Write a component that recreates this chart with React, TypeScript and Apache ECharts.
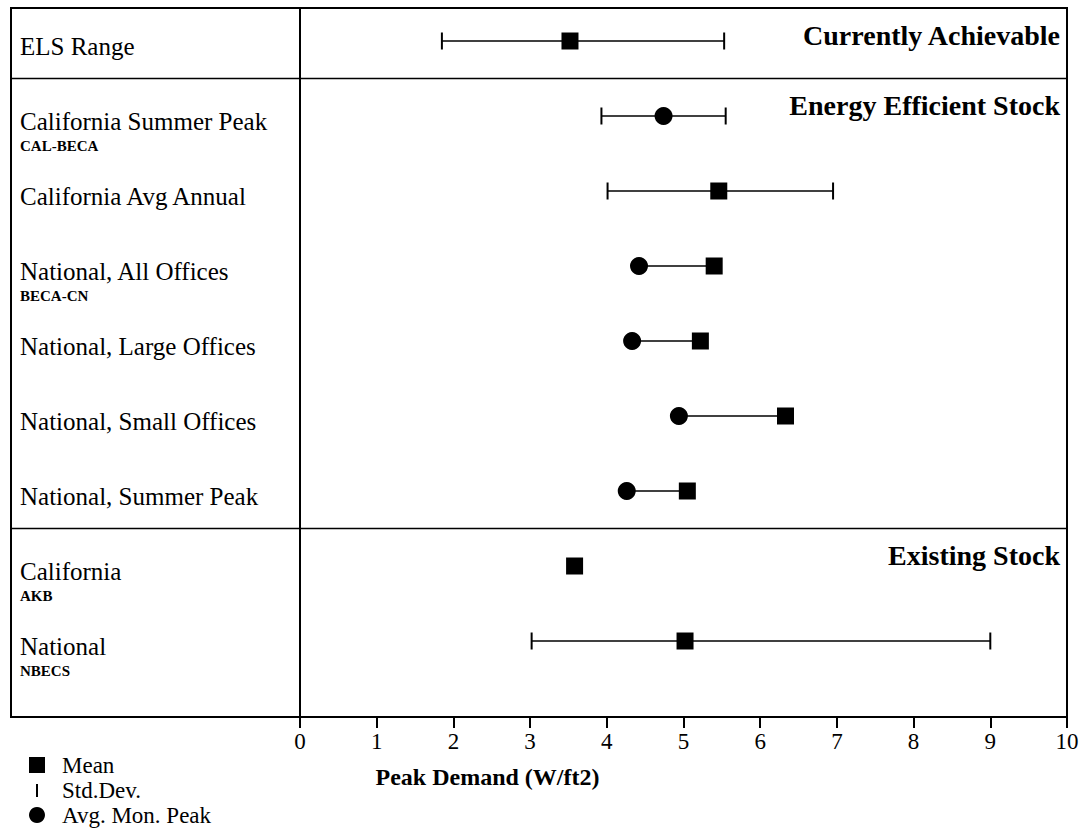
import React, { useEffect, useRef } from "react";
import * as echarts from "echarts";

// ---- data ----
const rowNames = [
  "ELS Range",
  "California Summer Peak",
  "California Avg Annual",
  "National, All Offices",
  "National, Large Offices",
  "National, Small Offices",
  "National, Summer Peak",
  "California",
  "National",
];
const rowSources = ["", "CAL-BECA", "", "BECA-CN", "", "", "", "AKB", "NBECS"];
const meanValues: (number | null)[] = [3.52, null, 5.46, 5.4, 5.22, 6.33, 5.05, 3.58, 5.02];
const peakValues: (number | null)[] = [null, 4.74, null, 4.42, 4.33, 4.94, 4.26, null, null];
const stdLow: (number | null)[] = [1.85, 3.93, 4.01, null, null, null, null, null, 3.02];
const stdHigh: (number | null)[] = [5.53, 5.55, 6.95, null, null, null, null, null, 9.0];
const groupTitles = ["Currently Achievable", "Energy Efficient Stock", "Existing Stock"];
const Y_MIN = -0.44;
const Y_MAX = 9.0133;
const groupSeparators = [0.5, 6.5];
const groupTops = [Y_MIN, ...groupSeparators];
const legendLabels = ["Mean", "Std.Dev.", "Avg. Mon. Peak"];
const axisTitle = "Peak Demand (W/ft2)";

const SERIF = "'Liberation Serif', 'Times New Roman', serif";

export default function App() {
  const ref = useRef<HTMLDivElement>(null);

  useEffect(() => {
    if (!ref.current) return;
    const chart = echarts.init(ref.current, null, { renderer: "svg" });

    const meanData = meanValues
      .map((v, i) => (v == null ? null : [v, i]))
      .filter((d) => d) as number[][];
    const peakData = peakValues
      .map((v, i) => (v == null ? null : [v, i]))
      .filter((d) => d) as number[][];
    const stdData = stdLow
      .map((v, i) => (v == null || stdHigh[i] == null ? null : [i, v, stdHigh[i] as number]))
      .filter((d) => d) as number[][];
    const linkData = peakValues
      .map((v, i) => (v == null || meanValues[i] == null ? null : [i, v, meanValues[i] as number]))
      .filter((d) => d) as number[][];
    const labelData = rowNames.map((n, i) => ({ value: [0, i], name: n, sub: rowSources[i] }));
    const titleData = groupTitles.map((t, k) => ({ value: [10, groupTops[k]], name: t }));

    const option: any = {
      animation: false,
      backgroundColor: "#fff",
      textStyle: { fontFamily: SERIF, color: "#000" },
      grid: { left: 300, right: 17, top: 8, bottom: 120, containLabel: false },
      xAxis: {
        type: "value",
        min: 0,
        max: 10,
        interval: 1,
        axisLine: { show: true, onZero: false, lineStyle: { color: "#000", width: 2 } },
        axisTick: { show: true, length: 11, lineStyle: { color: "#000", width: 2 } },
        axisLabel: { color: "#000", fontSize: 23, fontFamily: SERIF, margin: 13 },
        splitLine: { show: false },
        name: axisTitle,
        nameLocation: "middle",
        nameGap: 48,
        nameTextStyle: {
          fontFamily: SERIF,
          fontSize: 24,
          fontWeight: "bold",
          color: "#000",
          padding: [0, 392, 0, 0],
        },
      },
      yAxis: {
        type: "value",
        inverse: true,
        min: Y_MIN,
        max: Y_MAX,
        axisLine: { show: true, onZero: false, lineStyle: { color: "#000", width: 2 } },
        axisTick: { show: false },
        axisLabel: { show: false },
        splitLine: { show: false },
      },
      graphic: [
        {
          type: "rect",
          shape: { x: 11, y: 8, width: 1056, height: 709 },
          style: { fill: "none", stroke: "#000", lineWidth: 2 },
          z: 10,
        },
        // legend
        { type: "rect", shape: { x: 29, y: 757, width: 16, height: 16 }, style: { fill: "#000" } },
        { type: "line", shape: { x1: 37, y1: 784, x2: 37, y2: 797 }, style: { stroke: "#000", lineWidth: 2 } },
        { type: "circle", shape: { cx: 37, cy: 815, r: 8 }, style: { fill: "#000" } },
        ...legendLabels.map((t, k) => ({
          type: "text",
          x: 62,
          y: 765 + k * 25,
          style: {
            text: t,
            fill: "#000",
            font: `23px ${SERIF}`,
            textVerticalAlign: "middle",
            verticalAlign: "middle",
          },
        })),
      ],
      series: [
        {
          name: "Separators",
          type: "custom",
          clip: false,
          silent: true,
          data: groupSeparators.map((s) => [s]),
          encode: { y: 0 },
          renderItem: (params: any, api: any) => {
            const y = api.coord([0, api.value(0)])[1];
            const cs = params.coordSys;
            return {
              type: "line",
              shape: { x1: 11, y1: y, x2: cs.x + cs.width, y2: y },
              style: { stroke: "#000", lineWidth: 1.3 },
            };
          },
        },
        {
          name: "Std.Dev.",
          type: "custom",
          data: stdData,
          encode: { y: 0, x: [1, 2] },
          renderItem: (params: any, api: any) => {
            const row = api.value(0);
            const p1 = api.coord([api.value(1), row]);
            const p2 = api.coord([api.value(2), row]);
            const h = 8.5;
            const st = { stroke: "#000", lineWidth: 1.5 };
            return {
              type: "group",
              children: [
                { type: "line", shape: { x1: p1[0], y1: p1[1], x2: p2[0], y2: p2[1] }, style: st },
                { type: "line", shape: { x1: p1[0], y1: p1[1] - h, x2: p1[0], y2: p1[1] + h }, style: { stroke: "#000", lineWidth: 2 } },
                { type: "line", shape: { x1: p2[0], y1: p2[1] - h, x2: p2[0], y2: p2[1] + h }, style: { stroke: "#000", lineWidth: 2 } },
              ],
            };
          },
        },
        {
          name: "Link",
          type: "custom",
          data: linkData,
          encode: { y: 0, x: [1, 2] },
          renderItem: (params: any, api: any) => {
            const row = api.value(0);
            const p1 = api.coord([api.value(1), row]);
            const p2 = api.coord([api.value(2), row]);
            return {
              type: "line",
              shape: { x1: p1[0], y1: p1[1], x2: p2[0], y2: p2[1] },
              style: { stroke: "#000", lineWidth: 1.5 },
            };
          },
        },
        {
          name: "Mean",
          type: "scatter",
          symbol: "rect",
          symbolSize: 17,
          itemStyle: { color: "#000", opacity: 1 },
          data: meanData,
          z: 5,
        },
        {
          name: "Avg. Mon. Peak",
          type: "scatter",
          symbol: "circle",
          symbolSize: 18,
          itemStyle: { color: "#000", opacity: 1 },
          data: peakData,
          z: 5,
        },
        {
          name: "RowLabels",
          type: "scatter",
          symbolSize: 0,
          silent: true,
          itemStyle: { color: "#000", opacity: 1 },
          data: labelData,
          label: {
            show: true,
            position: [-280, -7],
            align: "left",
            verticalAlign: "top",
            formatter: (p: any) =>
              p.data.sub ? `{m|${p.data.name}}\n{s|${p.data.sub}}` : `{m|${p.data.name}}`,
            rich: {
              m: { fontFamily: SERIF, fontSize: 25, lineHeight: 24, color: "#000" },
              s: { fontFamily: SERIF, fontSize: 15, fontWeight: "bold", lineHeight: 26, color: "#000" },
            },
          },
        },
        {
          name: "GroupTitles",
          type: "scatter",
          symbolSize: 0,
          silent: true,
          itemStyle: { color: "#000", opacity: 1 },
          data: titleData,
          label: {
            show: true,
            position: [-7, 27],
            align: "right",
            verticalAlign: "middle",
            formatter: (p: any) => p.data.name,
            fontFamily: SERIF,
            fontSize: 28,
            fontWeight: "bold",
            color: "#000",
          },
        },
      ],
    };

    chart.setOption(option);
    return () => chart.dispose();
  }, []);

  return (
    <div
      ref={ref}
      style={{ position: "fixed", left: 0, top: 0, width: 1084, height: 837, background: "#fff" }}
    />
  );
}
